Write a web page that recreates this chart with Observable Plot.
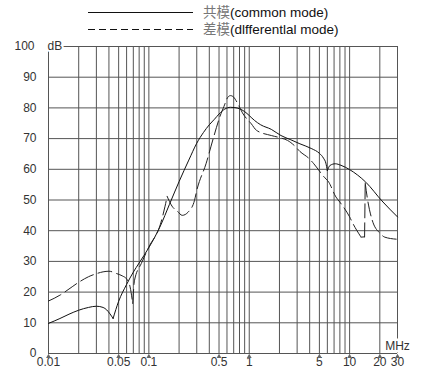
<!DOCTYPE html>
<html><head><meta charset="utf-8">
<script src="https://cdn.jsdelivr.net/npm/d3@7"></script>
<script src="https://cdn.jsdelivr.net/npm/@observablehq/plot@0.6"></script>
<style>
body{margin:0;background:#fff;font-family:"Liberation Sans",Arial,"Noto Sans CJK SC",sans-serif;}
#legend{display:block}
</style></head><body>
<div id="chart"></div>
<script>
// ---- data ----
const seriesNames = ["共模", "差模"];
const seriesSuffix = ["(common mode)", "(dlfferentlal mode)"];

// common mode (solid)
const cmFreq = [0.01,0.013,0.016,0.02,0.025,0.03,0.035,0.038,0.041,0.044,0.05,0.06,0.07,0.08,0.1,0.13,0.16,0.2,0.25,0.3,0.35,0.4,0.45,0.5,0.57,0.65,0.72,0.8,0.9,1,1.13,1.3,1.66,2.07,2.6,3.2,4.2,5.0,5.5,5.8,6.0,6.4,7.2,8.2,10,14.5,21,30];
const cmDb   = [9.8,11.4,12.8,14.1,15.0,15.4,15.0,14.2,12.9,11.4,17,22.5,26.5,29.5,34.5,41.5,48.5,56,63,68.5,72,74.5,76.3,78,79.6,80.2,80.1,79.7,78.8,77.5,75.9,74.5,73,71,69.6,68.3,66.7,65.2,63.6,62,59.6,61.3,61.8,61.3,59.9,55.8,49.7,44.5];
const cmCusps = [0.044, 6.0];

// differential mode (dashed)
const dmFreq = [0.01,0.013,0.016,0.02,0.025,0.03,0.035,0.04,0.048,0.055,0.06,0.065,0.069,0.072,0.084,0.1,0.13,0.145,0.152,0.17,0.193,0.215,0.247,0.285,0.3,0.371,0.442,0.508,0.56,0.613,0.65,0.7,0.75,0.87,1.05,1.18,1.66,2.07,2.41,2.8,3.2,3.95,4.4,5.5,6.2,7.3,8,10,10.8,13,14.1,14.3,15.05,16.8,20.3,22.4,30];
const dmDb   = [17.1,19,21,23.2,25,26,26.6,26.8,26,25.2,24.3,21.7,16.3,23.9,29.3,34.7,42,48,51.2,48,46.3,45,46.1,49.9,53.1,61.8,70.5,77,80.5,83.5,84,83.5,82,78,74.8,72.7,71,70.2,69.4,67.8,65.8,63.5,61.8,57.7,55.8,51,49.3,44.5,42.3,37.9,38,55.5,50.4,43.4,39,37.9,37.2];
const dmCusps = [0.069, 0.152, 13, 14.1, 14.3];

const xTickValues = [0.01,0.05,0.1,0.5,1,5,10,20,30];
const xGrid = [0.01,0.02,0.03,0.04,0.05,0.06,0.07,0.08,0.09,0.1,0.2,0.3,0.4,0.5,0.6,0.7,0.8,0.9,1,2,3,4,5,6,7,8,9,10,20,30];
const yTickValues = [0,10,20,30,40,50,60,70,80,90];
const yGrid = [0,10,20,30,40,50,60,70,80,90,100];

// ---- helpers ----
function segRows(fr, db, cusps) {
  const rows = []; let seg = 0;
  fr.forEach((f, i) => {
    rows.push({f, db: db[i], seg});
    if (cusps.includes(f) && i > 0 && i < fr.length - 1) { seg++; rows.push({f, db: db[i], seg}); }
  });
  return rows;
}
const cmRows = segRows(cmFreq, cmDb, cmCusps);
const dmRows = segRows(dmFreq, dmDb, dmCusps);

// ---- legend ----
const font = '"Liberation Sans",Arial,"Noto Sans CJK SC",sans-serif';
const leg = d3.select("#chart").append("svg").attr("id","legend").attr("width",441).attr("height",38);
const legY = [12.5, 29.5];
seriesNames.forEach((n, i) => {
  leg.append("line").attr("x1",88).attr("x2",193).attr("y1",legY[i]).attr("y2",legY[i])
     .attr("stroke","#111").attr("stroke-width",1).attr("stroke-dasharray", i ? "7,4" : null);
  const t = leg.append("text").attr("x",203).attr("y",legY[i]+4.5)
     .attr("font-family",font).attr("font-size",13.5).attr("fill","#111");
  t.append("tspan").attr("fill","#777").text(n);
  t.append("tspan").text(seriesSuffix[i]);
});

// ---- plot ----
const chart = Plot.plot({
  width: 441, height: 336,
  marginLeft: 48, marginRight: 44, marginTop: 8, marginBottom: 21,
  style: {fontFamily: font, fontSize: "12px", color: "#333", background: "white", overflow: "visible"},
  x: {type: "log", domain: [0.01, 30], label: null, axis: null},
  y: {domain: [0, 100], label: null, axis: null},
  marks: [
    Plot.ruleX(xGrid, {y1: 0, y2: 100, stroke: "#555", strokeWidth: 1}),
    Plot.ruleY(yGrid, {x1: 0.01, x2: 30, stroke: "#555", strokeWidth: 1}),
    Plot.line(cmRows, {x: "f", y: "db", z: "seg", curve: "monotone-x", stroke: "#111", strokeWidth: 1}),
    Plot.line(dmRows, {x: "f", y: "db", z: "seg", curve: "monotone-x", stroke: "#222", strokeWidth: 1, strokeDasharray: "14,5"}),
    Plot.text(xTickValues, {x: d => d, y: 0, text: d => String(d), lineAnchor: "top", dy: 4, fill: "#333"}),
    Plot.dot(xTickValues, {x: d => d, y: 0, symbol: "triangle", r: 1.8, fill: "#666", stroke: null, dy: 3}),
    Plot.text(yTickValues, {x: 0.01, y: d => d, text: d => String(d), textAnchor: "end", dx: -12, fill: "#333"}),
    Plot.text(["100"], {x: 0.01, y: 100, dx: -14, textAnchor: "end", fill: "#333"}),
    Plot.text(["dB"], {x: 0.01, y: 100, dx: -1, textAnchor: "start", fill: "#333", stroke: "white", strokeWidth: 4}),
    Plot.text(["MHz"], {x: 30, y: 0, dy: -7, textAnchor: "middle", fill: "#333", stroke: "white", strokeWidth: 5})
  ]
});
document.getElementById("chart").appendChild(chart);
</script>
</body></html>
